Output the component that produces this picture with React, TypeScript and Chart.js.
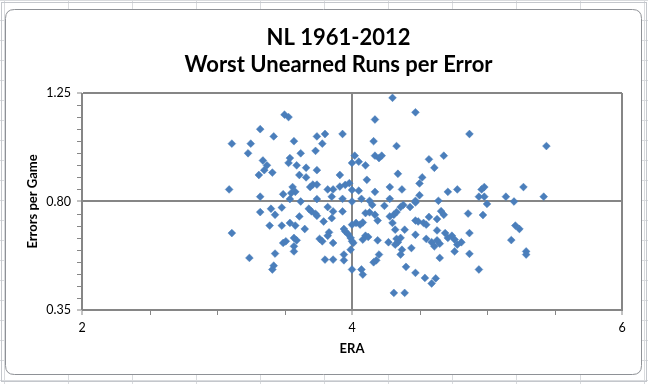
import { useEffect, useRef } from "react";
import { Chart, registerables } from "chart.js";

Chart.register(...registerables);

const TITLE_LINES = ["NL 1961-2012", "Worst Unearned Runs per Error"];
const X_TITLE = "ERA";
const Y_TITLE = "Errors per Game";
const X_TICKS = [2, 4, 6];
const Y_TICKS = [0.35, 0.8, 1.25];
const X_MINOR = [2.5, 3, 3.5, 4.5, 5, 5.5];
const Y_MINOR = [0.4, 0.45, 0.5, 0.55, 0.6, 0.65, 0.7, 0.75, 0.85, 0.9, 0.95, 1.0, 1.05, 1.1, 1.15, 1.2];

// Team-season ERA (x) and errors per game (y), paired by index
const ERA = [
  3.50, 3.53, 3.32, 3.11, 3.25, 3.42, 3.57, 3.74, 3.80, 3.78,
  3.23, 3.62, 3.73, 3.54, 3.53, 3.34, 3.37, 3.35, 3.59, 3.66,
  3.74, 3.41, 3.31, 3.61, 3.66, 3.09, 3.32, 3.49, 3.56, 3.58,
  3.55, 3.54, 3.62, 3.69, 3.71, 3.74, 3.74, 3.82, 3.86, 3.85,
  4.30, 4.47, 4.17, 3.93, 4.16, 4.33, 4.17, 4.20, 4.22, 4.02,
  4.00, 4.05, 4.10, 4.57, 4.61, 4.68, 4.34, 3.91, 4.52, 4.50,
  4.11, 4.28, 4.37, 4.17, 4.05, 3.91, 3.95, 3.98, 4.00, 4.50,
  3.93, 4.07, 4.13, 4.28, 4.47, 4.64, 4.00, 4.15,
  4.87, 5.44, 4.71, 4.78, 4.96, 4.98, 5.27, 4.94, 4.98, 5.14, 5.20, 5.42, 5.00,
  4.66, 4.68, 4.86, 4.97, 5.21, 5.24, 4.69, 4.74, 4.71, 4.76,
  4.87, 4.81, 4.78, 5.18, 4.76, 4.87, 5.29, 5.29, 4.65, 4.94,
  3.32, 3.40, 3.43, 3.48, 3.68, 3.70, 3.73, 3.74, 3.82, 3.86,
  3.61, 3.79, 3.85, 3.39, 3.48, 3.54, 3.58, 3.65, 3.11, 3.49,
  3.51, 3.57, 3.59, 3.57, 3.57, 3.76, 3.78, 3.83, 3.82, 3.86,
  3.43, 3.24, 3.80, 3.42, 3.41, 3.86,
  3.93, 4.10, 4.13, 4.17, 4.08, 4.06, 4.03, 4.00, 4.19, 4.24,
  4.28, 4.31, 4.33, 4.36, 4.38, 4.43, 4.47, 4.30, 4.47, 4.49,
  4.53, 4.55, 4.57, 4.63, 3.94, 3.95, 3.97, 3.99, 4.00, 4.01,
  4.08, 4.10, 4.12, 4.19, 4.27, 4.33, 4.34, 4.32, 4.39, 4.36,
  4.32, 4.47, 4.55, 4.59, 4.63, 4.65, 4.61, 4.63, 3.99, 4.20,
  4.18, 4.16, 4.37, 4.36, 4.44, 3.94, 3.94, 4.00, 4.07, 4.08,
  4.40, 4.47, 4.54, 4.59, 4.62, 4.31, 4.39,
];

const ERRORS_PER_GAME = [
  1.16, 1.15, 1.10, 1.04, 1.04, 1.07, 1.05, 1.07, 1.08, 1.04,
  1.00, 1.00, 1.01, 0.98, 0.96, 0.97, 0.95, 0.93, 0.95, 0.94,
  0.93, 0.92, 0.91, 0.91, 0.90, 0.85, 0.82, 0.83, 0.86, 0.84,
  0.835, 0.81, 0.80, 0.86, 0.87, 0.87, 0.81, 0.85, 0.85, 0.82,
  1.23, 1.17, 1.14, 1.08, 1.05, 1.03, 0.99, 0.98, 0.99, 0.99,
  0.96, 0.965, 0.95, 0.975, 0.94, 0.99, 0.915, 0.91, 0.90, 0.875,
  0.89, 0.86, 0.85, 0.84, 0.845, 0.862, 0.869, 0.876, 0.848, 0.826,
  0.811, 0.811, 0.803, 0.811, 0.803, 0.803, 0.800, 0.786,
  1.08, 1.03, 0.84, 0.85, 0.85, 0.86, 0.86, 0.82, 0.82, 0.82, 0.80, 0.82, 0.79,
  0.76, 0.745, 0.75, 0.744, 0.70, 0.686, 0.669, 0.658, 0.649, 0.642,
  0.669, 0.631, 0.621, 0.640, 0.593, 0.583, 0.593, 0.580, 0.566, 0.518,
  0.756, 0.770, 0.745, 0.775, 0.770, 0.759, 0.749, 0.741, 0.777, 0.759,
  0.738, 0.717, 0.731, 0.700, 0.700, 0.711, 0.700, 0.686, 0.669, 0.628,
  0.635, 0.649, 0.639, 0.614, 0.593, 0.645, 0.635, 0.672, 0.658, 0.628,
  0.584, 0.566, 0.559, 0.534, 0.518, 0.559,
  0.759, 0.752, 0.755, 0.745, 0.713, 0.704, 0.711, 0.704, 0.721, 0.782,
  0.738, 0.745, 0.756, 0.777, 0.786, 0.777, 0.796, 0.711, 0.721, 0.717,
  0.711, 0.704, 0.736, 0.727, 0.686, 0.676, 0.665, 0.649, 0.635, 0.628,
  0.642, 0.658, 0.653, 0.639, 0.631, 0.645, 0.631, 0.621, 0.683, 0.649,
  0.683, 0.662, 0.645, 0.631, 0.639, 0.625, 0.614, 0.680, 0.600, 0.580,
  0.556, 0.548, 0.600, 0.580, 0.607, 0.580, 0.556, 0.518, 0.518, 0.497,
  0.529, 0.504, 0.483, 0.460, 0.481, 0.421, 0.421,
];

const MARKER = "#4a7ebb";
const AXIS_GREY = "#868686";
const FONT = "Lato, 'Open Sans', sans-serif";

const framePlugin = {
  id: "excelFrame",
  beforeDraw(chart: any) {
    const { ctx, width, height } = chart;
    ctx.save();
    ctx.fillStyle = "#ffffff";
    ctx.fillRect(0, 0, width, height);
    // spreadsheet cell grid behind the chart object
    ctx.strokeStyle = "#d9dbde";
    ctx.lineWidth = 1;
    for (let x = 4.5; x < width; x += 64) {
      ctx.beginPath();
      ctx.moveTo(x, 0);
      ctx.lineTo(x, height);
      ctx.stroke();
    }
    for (let y = 0.5; y < height; y += 20) {
      ctx.beginPath();
      ctx.moveTo(0, y);
      ctx.lineTo(width, y);
      ctx.stroke();
    }
    // selection frame
    ctx.strokeStyle = "#c4c7cc";
    ctx.strokeRect(1.5, 2.5, width - 3, height - 5);
    // chart object (rounded)
    const x0 = 5.5, y0 = 9.5, w = width - 12, h = height - 19, r = 9;
    ctx.beginPath();
    ctx.moveTo(x0 + r, y0);
    ctx.lineTo(x0 + w - r, y0);
    ctx.quadraticCurveTo(x0 + w, y0, x0 + w, y0 + r);
    ctx.lineTo(x0 + w, y0 + h - r);
    ctx.quadraticCurveTo(x0 + w, y0 + h, x0 + w - r, y0 + h);
    ctx.lineTo(x0 + r, y0 + h);
    ctx.quadraticCurveTo(x0, y0 + h, x0, y0 + h - r);
    ctx.lineTo(x0, y0 + r);
    ctx.quadraticCurveTo(x0, y0, x0 + r, y0);
    ctx.closePath();
    ctx.fillStyle = "#ffffff";
    ctx.fill();
    ctx.strokeStyle = "#8e9196";
    ctx.stroke();
    // title
    ctx.fillStyle = "#000000";
    ctx.font = `bold 22px ${FONT}`;
    ctx.textAlign = "center";
    ctx.textBaseline = "middle";
    ctx.fillText(TITLE_LINES[0], 338.5, 38);
    ctx.fillText(TITLE_LINES[1], 338.5, 65);
    ctx.restore();
  },
  afterDraw(chart: any) {
    const { ctx, chartArea, scales } = chart;
    ctx.save();
    ctx.strokeStyle = AXIS_GREY;
    ctx.lineWidth = 1;
    X_MINOR.forEach((v) => {
      const px = Math.round(scales.x.getPixelForValue(v)) + 0.5;
      ctx.beginPath();
      ctx.moveTo(px, chartArea.bottom);
      ctx.lineTo(px, chartArea.bottom + 5);
      ctx.stroke();
    });
    Y_MINOR.forEach((v) => {
      const py = Math.round(scales.y.getPixelForValue(v)) + 0.5;
      ctx.beginPath();
      ctx.moveTo(chartArea.left - 5, py);
      ctx.lineTo(chartArea.left, py);
      ctx.stroke();
    });
    ctx.restore();
  },
};

export default function App() {
  const ref = useRef<HTMLCanvasElement | null>(null);

  useEffect(() => {
    if (!ref.current) return;
    const points = ERA.map((x, i) => ({ x, y: ERRORS_PER_GAME[i] }));
    const chart = new Chart(ref.current, {
      type: "scatter",
      data: {
        datasets: [
          {
            data: points,
            pointStyle: "rectRot",
            pointRadius: 3.9,
            pointHoverRadius: 3.9,
            backgroundColor: MARKER,
            borderColor: MARKER,
            borderWidth: 0.5,
          },
        ],
      },
      options: {
        responsive: false,
        animation: false,
        devicePixelRatio: 1,
        layout: { padding: { left: 10, right: 26, top: 93, bottom: 0 } },
        plugins: {
          legend: { display: false },
          tooltip: { enabled: false },
          title: { display: false },
        },
        scales: {
          x: {
            type: "linear",
            min: 2,
            max: 6,
            afterBuildTicks: (s: any) => {
              s.ticks = X_TICKS.map((value) => ({ value }));
            },
            afterFit: (s: any) => {
              s.height = 74;
            },
            ticks: {
              color: "#000",
              font: { family: FONT, size: 12.5 },
              padding: 5,
              callback: (v: any) => String(v),
            },
            grid: {
              color: AXIS_GREY,
              lineWidth: 2,
              drawTicks: true,
              tickLength: 5,
              tickColor: AXIS_GREY,
              tickWidth: 1,
            },
            border: { display: true, color: AXIS_GREY, width: 1 },
            title: {
              display: true,
              text: X_TITLE,
              color: "#000",
              font: { family: FONT, size: 13, weight: "bold" },
              padding: { top: 0, bottom: 27 },
            },
          },
          y: {
            type: "linear",
            min: 0.35,
            max: 1.25,
            afterBuildTicks: (s: any) => {
              s.ticks = Y_TICKS.map((value) => ({ value }));
            },
            afterFit: (s: any) => {
              s.width = 72;
            },
            ticks: {
              color: "#000",
              font: { family: FONT, size: 12.5 },
              padding: 6,
              callback: (v: any) => Number(v).toFixed(2),
            },
            grid: {
              color: AXIS_GREY,
              lineWidth: 2,
              drawTicks: true,
              tickLength: 5,
              tickColor: AXIS_GREY,
              tickWidth: 1,
            },
            border: { display: true, color: AXIS_GREY, width: 1 },
            title: {
              display: true,
              text: Y_TITLE,
              color: "#000",
              font: { family: FONT, size: 13, weight: "bold" },
              padding: { top: 15, bottom: 0 },
            },
          },
        },
      },
      plugins: [framePlugin],
    });
    return () => chart.destroy();
  }, []);

  return (
    <div style={{ position: "absolute", left: 0, top: 0, width: 648, height: 384 }}>
      <canvas ref={ref} width={648} height={384} style={{ display: "block", width: 648, height: 384 }} />
    </div>
  );
}
